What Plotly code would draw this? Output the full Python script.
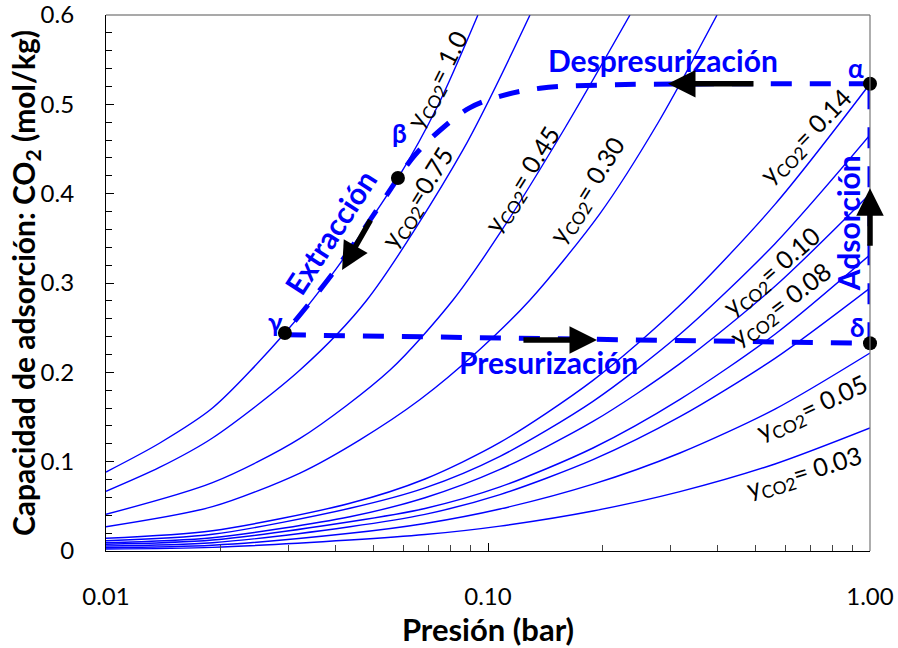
import math
import plotly.graph_objects as go

# Isotherms: CO2 adsorption capacity (mol/kg) vs total pressure (bar) for each CO2 mole fraction
P_A = [0.01, 0.0138, 0.019, 0.0294, 0.04, 0.0581, 0.074, 0.0941]
Q_A = [0.0884, 0.1206, 0.160, 0.244, 0.3156, 0.4175, 0.499, 0.600]

P_B = [0.01, 0.0138, 0.019, 0.0322, 0.0482, 0.086, 0.1288]
Q_B = [0.0668, 0.0935, 0.1265, 0.2026, 0.281, 0.449, 0.600]

P_C = [0.01, 0.019, 0.0322, 0.0554, 0.081, 0.1075, 0.159, 0.2353]
Q_C = [0.0411, 0.0765, 0.126, 0.2026, 0.281, 0.356, 0.4735, 0.600]

P_D = [0.01, 0.019, 0.0322, 0.0462, 0.0664, 0.095, 0.1288, 0.1964, 0.28, 0.3977]
Q_D = [0.0272, 0.0496, 0.0873, 0.1245, 0.1696, 0.2253, 0.281, 0.3777, 0.4808, 0.600]

# Low-fraction isotherms share a common pressure grid
P_GRID = [0.01, 0.019, 0.0435, 0.0684, 0.1075, 0.1883, 0.318, 0.564, 1.0]
Q_E = [0.0142, 0.0227, 0.0534, 0.0806, 0.1215, 0.191, 0.275, 0.388, 0.523]
Q_F = [0.0115, 0.0187, 0.0478, 0.0706, 0.1060, 0.1675, 0.2426, 0.344, 0.4657]
Q_G = [0.0093, 0.0149, 0.0384, 0.0596, 0.0913, 0.1450, 0.2097, 0.2963, 0.3996]
Q_H = [0.0075, 0.0123, 0.0328, 0.0476, 0.0717, 0.1153, 0.1697, 0.2427, 0.3316]
Q_I = [0.0056, 0.0093, 0.0272, 0.0410, 0.0631, 0.1022, 0.1503, 0.2157, 0.2944]
Q_J = [0.0037, 0.0064, 0.0198, 0.0308, 0.0470, 0.0748, 0.1097, 0.1588, 0.2216]
Q_K = [0.0022, 0.0041, 0.0123, 0.0184, 0.0279, 0.0448, 0.0664, 0.0974, 0.1377]

isotherms = [
    (P_A, Q_A), (P_B, Q_B), (P_C, Q_C), (P_D, Q_D),
    (P_GRID, Q_E), (P_GRID, Q_F), (P_GRID, Q_G), (P_GRID, Q_H),
    (P_GRID, Q_I), (P_GRID, Q_J), (P_GRID, Q_K),
]

# PSA cycle, drawn step by step
# depressurisation: alpha -> beta
P_DEP = [1.0, 0.405, 0.197, 0.1368, 0.1073, 0.0895, 0.0749, 0.0643, 0.0581]
Q_DEP = [0.523, 0.523, 0.5216, 0.518, 0.509, 0.496, 0.471, 0.443, 0.4175]
# extraction: beta -> gamma (along the pure-CO2 isotherm)
P_EXT = [0.0581, 0.04, 0.0294]
Q_EXT = [0.4175, 0.3156, 0.244]
# pressurisation: gamma -> delta
P_PRE = [0.0294, 1.0]
Q_PRE = [0.242, 0.2325]
# adsorption: delta -> alpha
P_ADS = [1.0, 1.0]
Q_ADS = [0.2325, 0.523]

# Cycle state points
STATE_NAMES = ["α", "β", "γ", "δ"]
STATE_P = [1.0, 0.0581, 0.0294, 1.0]
STATE_Q = [0.523, 0.4175, 0.244, 0.2325]

# Isotherm labels
LABEL_TEXT = ["y<sub>CO2</sub>= 1.0", "y<sub>CO2</sub>=0.75", "y<sub>CO2</sub>= 0.45",
              "y<sub>CO2</sub>= 0.30", "y<sub>CO2</sub>= 0.14", "y<sub>CO2</sub>= 0.10",
              "y<sub>CO2</sub>= 0.08", "y<sub>CO2</sub>= 0.05", "y<sub>CO2</sub>= 0.03"]
LABEL_P = [0.0740, 0.0656, 0.1235, 0.1827, 0.680, 0.554, 0.585, 0.709, 0.672]
LABEL_Q = [0.527, 0.395, 0.415, 0.404, 0.4634, 0.312, 0.275, 0.160, 0.0873]
LABEL_ANGLE = [-63, -58, -58, -58, -46, -41, -37, -25, -17]

# Step names and arrows
STEP_TEXT = ["Despresurización", "Presurización", "Extracción", "Adsorción"]
STEP_P = [0.2871, 0.1436, 0.0386, 0.876]
STEP_Q = [0.5496, 0.2116, 0.357, 0.367]
STEP_ANGLE = [0, 0, -57, -90]

ARROW_TAIL_P = [0.500, 0.1227, 0.0495, 1.0]
ARROW_TAIL_Q = [0.523, 0.2362, 0.3720, 0.340]
ARROW_HEAD_P = [0.296, 0.1929, 0.0415, 1.0]
ARROW_HEAD_Q = [0.523, 0.2362, 0.3146, 0.406]

GREEK_P = [0.919, 0.0588, 0.0277, 0.9247]
GREEK_Q = [0.541, 0.468, 0.256, 0.2508]

FONT = "Lato"
BLUE = "#0000FF"

fig = go.Figure()

for px, qy in isotherms:
    fig.add_trace(go.Scatter(
        x=px, y=qy, mode="lines",
        line=dict(color=BLUE, width=1.4, shape="spline", smoothing=0.8),
        hoverinfo="skip", showlegend=False,
    ))

cycle_line = dict(color=BLUE, width=5, dash="21px,18px")
for px, qy, shape in [(P_DEP, Q_DEP, "spline"), (P_EXT, Q_EXT, "spline"),
                      (P_PRE, Q_PRE, "linear"), (P_ADS, Q_ADS, "linear")]:
    fig.add_trace(go.Scatter(
        x=px, y=qy, mode="lines", line=dict(cycle_line, shape=shape),
        cliponaxis=False, hoverinfo="skip", showlegend=False,
    ))

fig.add_trace(go.Scatter(
    x=STATE_P, y=STATE_Q, mode="markers", text=STATE_NAMES,
    marker=dict(color="black", size=14),
    cliponaxis=False, hoverinfo="skip", showlegend=False,
))

annotations = []
for t, p, q, a in zip(LABEL_TEXT, LABEL_P, LABEL_Q, LABEL_ANGLE):
    annotations.append(dict(
        x=math.log10(p), y=q, text=t, textangle=a, showarrow=False,
        font=dict(family=FONT, size=25, color="black"),
        xanchor="center", yanchor="middle",
    ))

for t, p, q, a in zip(STEP_TEXT, STEP_P, STEP_Q, STEP_ANGLE):
    annotations.append(dict(
        x=math.log10(p), y=q, text="<b>%s</b>" % t, textangle=a,
        showarrow=False, font=dict(family=FONT, size=30, color=BLUE),
        xanchor="center", yanchor="middle",
    ))

for t, p, q in zip(STATE_NAMES, GREEK_P, GREEK_Q):
    annotations.append(dict(
        x=math.log10(p), y=q, text="<b>%s</b>" % t, showarrow=False,
        font=dict(family=FONT, size=26, color=BLUE),
        xanchor="center", yanchor="middle",
    ))

for tp, tq, hp, hq in zip(ARROW_TAIL_P, ARROW_TAIL_Q, ARROW_HEAD_P, ARROW_HEAD_Q):
    annotations.append(dict(
        x=math.log10(hp), y=hq, ax=math.log10(tp), ay=tq,
        xref="x", yref="y", axref="x", ayref="y",
        text="", showarrow=True, arrowhead=2, arrowsize=1.0, arrowwidth=5.5,
        arrowcolor="black", standoff=0, startstandoff=0,
    ))

# y-axis title placed as a rotated paper annotation
annotations.append(dict(
    xref="paper", yref="paper", x=-0.106, y=0.5,
    text="<b>Capacidad de adsorción: CO<sub>2</sub> (mol/kg)</b>",
    textangle=-90, showarrow=False, xanchor="center", yanchor="middle",
    font=dict(family=FONT, size=30, color="black"),
))

minor_x = [m * 10 ** e for e in (-2, -1) for m in range(2, 10)]

fig.update_layout(
    width=898, height=648,
    margin=dict(l=106, r=28, t=15, b=97),
    paper_bgcolor="white", plot_bgcolor="white",
    font=dict(family=FONT, size=24, color="black"),
    annotations=annotations,
    xaxis=dict(
        type="log", range=[-2, 0], automargin=False,
        tickmode="array", tickvals=[0.01, 0.1, 1.0], ticktext=["0.01", "0.10", "1.00"],
        ticks="inside", ticklen=8, tickwidth=1, tickcolor="black",
        minor=dict(tickmode="array", tickvals=minor_x, ticks="inside", ticklen=6,
                   tickcolor="#444444", showgrid=False),
        showline=True, linecolor="black", linewidth=1.2,
        showgrid=False, zeroline=False,
        ticklabelstandoff=24, ticklabeloverflow="allow",
        tickfont=dict(family=FONT, size=24),
        title=dict(text="<b>Presión (bar)</b>", font=dict(family=FONT, size=31), standoff=6),
    ),
    yaxis=dict(
        range=[0, 0.6], automargin=False, tickmode="array",
        tickvals=[0, 0.1, 0.2, 0.3, 0.4, 0.5, 0.6],
        ticktext=["0", "0.1", "0.2", "0.3", "0.4", "0.5", "0.6"],
        ticks="inside", ticklen=8, tickwidth=1, tickcolor="black",
        minor=dict(dtick=0.02, ticks="inside", ticklen=6, tickcolor="black", showgrid=False),
        showline=True, linecolor="black", linewidth=1.2,
        showgrid=False, zeroline=False,
        ticklabelstandoff=26, ticklabeloverflow="allow",
        tickfont=dict(family=FONT, size=24),
    ),
    shapes=[
        dict(type="line", xref="paper", yref="paper", x0=0, x1=1, y0=1, y1=1,
             line=dict(color="#555555", width=1.2)),
        dict(type="line", xref="paper", yref="paper", x0=1, x1=1, y0=0, y1=1,
             line=dict(color="#777777", width=1.2)),
    ],
)

fig.write_html("out.html")
